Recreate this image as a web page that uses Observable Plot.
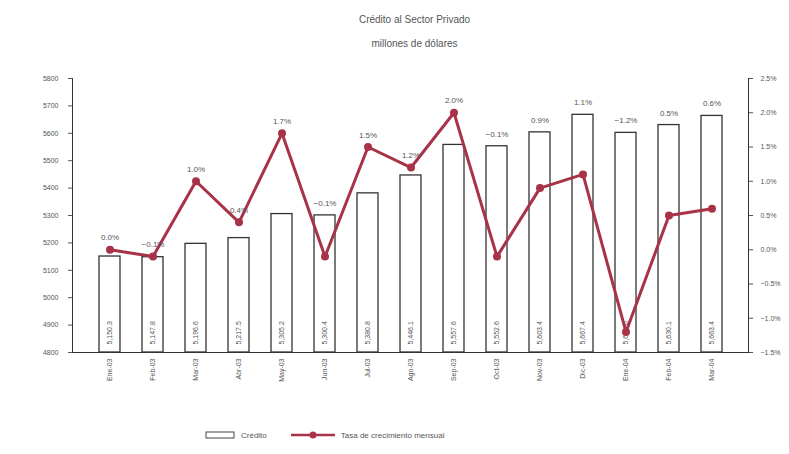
<!DOCTYPE html>
<html>
<head>
<meta charset="utf-8">
<script src="https://cdn.jsdelivr.net/npm/d3@7"></script>
<script src="https://cdn.jsdelivr.net/npm/@observablehq/plot@0.6"></script>
<style>
  html, body { margin: 0; padding: 0; background: #fff; }
  body { width: 789px; height: 454px; overflow: hidden; font-family: "Liberation Sans", Arial, sans-serif; color: #555; }
  #title { text-align: center; font-size: 10px; line-height: 24px; padding-top: 8px; padding-left: 40px; height: 44px; }
  #legend { display: flex; align-items: center; font-size: 8px; margin-left: 205px; margin-top: 16px; gap: 6px; color: #555; }
</style>
</head>
<body>
<div id="title">Crédito al Sector Privado<br>millones de dólares</div>
<div id="chart"></div>
<div id="legend">
  <svg width="30" height="8"><rect x="1" y="1" width="28" height="6" fill="#fff" stroke="#444"/></svg><span>Crédito</span>
  <svg width="44" height="10" style="margin-left:18px"><line x1="0" y1="5" x2="44" y2="5" stroke="#a83349" stroke-width="2.5"/><circle cx="22" cy="5" r="3.5" fill="#a83349"/></svg><span>Tasa de crecimiento mensual</span>
</div>
<script>
const months = ["Ene-03","Feb-03","Mar-03","Abr-03","May-03","Jun-03","Jul-03","Ago-03","Sep-03","Oct-03","Nov-03","Dic-03","Ene-04","Feb-04","Mar-04"];
const credito = [5150.3, 5147.8, 5196.6, 5217.5, 5305.2, 5300.4, 5380.8, 5446.1, 5557.6, 5552.6, 5603.4, 5667.4, 5601.6, 5630.1, 5663.4];
const tasa = [0.0, -0.1, 1.0, 0.4, 1.7, -0.1, 1.5, 1.2, 2.0, -0.1, 0.9, 1.1, -1.2, 0.5, 0.6];
const leftTicks = [4800, 4900, 5000, 5100, 5200, 5300, 5400, 5500, 5600, 5700, 5800];
const rightTicks = [-1.5, -1.0, -0.5, 0.0, 0.5, 1.0, 1.5, 2.0, 2.5];

const yMin = 4800, yMax = 5800, pMin = -1.5, pMax = 2.5;
const pToY = p => yMin + (p - pMin) / (pMax - pMin) * (yMax - yMin);
const yToP = y => pMin + (y - yMin) / (yMax - yMin) * (pMax - pMin);

const data = months.map((m, i) => ({
  mes: m,
  credito: credito[i],
  tasa: tasa[i],
  tasaY: pToY(tasa[i]),
  labelY: Math.max(credito[i], pToY(tasa[i]))
}));

const red = "#a83349";
const ink = "#555";

const chart = Plot.plot({
  width: 789,
  height: 362,
  marginTop: 26,
  marginBottom: 62,
  marginLeft: 72,
  marginRight: 41,
  style: { fontFamily: "Liberation Sans, Arial, sans-serif", fontSize: "8px", color: ink, background: "#fff" },
  x: { domain: months, padding: 0.52, label: null },
  y: { domain: [yMin, yMax], label: null },
  marks: [
    Plot.barY(data, { x: "mes", y1: yMin, y2: "credito", fill: "#fff", stroke: "#333", strokeWidth: 1.3 }),
    Plot.text(data, { x: "mes", y: yMin, text: d => d3.format(",.1f")(d.credito), rotate: -90, textAnchor: "start", dy: -8, fontSize: 7, fill: "#555" }),
    Plot.axisX({ tickRotate: -90, tickSize: 0, tickPadding: 6, fontSize: 7, color: "#555" }),
    Plot.axisY({ anchor: "left", ticks: leftTicks, tickFormat: d => String(d), tickSize: 4, tickPadding: 10, fontSize: 7, color: "#555" }),
    Plot.axisY({ anchor: "right", ticks: rightTicks.map(pToY), tickFormat: v => d3.format(".1f")(yToP(v)) + "%", tickSize: 4, tickPadding: 8, fontSize: 7, color: "#555" }),
    Plot.frame({ anchor: "left", stroke: "#333" }),
    Plot.frame({ anchor: "right", stroke: "#333" }),
    Plot.ruleY([yMin], { stroke: "#333" }),
    Plot.line(data, { x: "mes", y: "tasaY", stroke: red, strokeWidth: 3 }),
    Plot.dot(data, { x: "mes", y: "tasaY", r: 4, fill: red }),
    Plot.text(data, { x: "mes", y: "labelY", text: d => d3.format(".1f")(d.tasa) + "%", dy: -12, fontSize: 8, fill: "#555" })
  ]
});
document.getElementById("chart").appendChild(chart);
</script>
</body>
</html>
